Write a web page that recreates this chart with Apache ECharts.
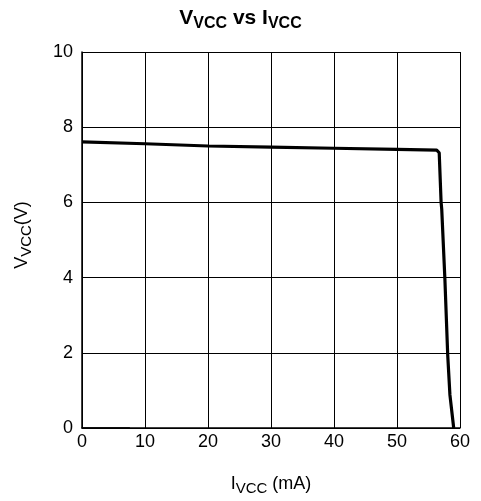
<!DOCTYPE html>
<html>
<head>
<meta charset="utf-8">
<script src="https://cdn.jsdelivr.net/npm/echarts@6/dist/echarts.min.js"></script>
<style>
html, body { margin: 0; padding: 0; background: #fff; }
#chart { width: 481px; height: 501px; }
</style>
</head>
<body>
<div id="chart"></div>
<script>
// curve: I (mA) vs V (V)
var currentMa = [0, 10, 20, 30, 40, 50, 56.3, 56.7, 57.0, 57.1, 57.6, 58.05, 58.4, 59.0];
var voltageV = [7.61, 7.56, 7.50, 7.47, 7.44, 7.41, 7.39, 7.32, 6.0, 5.82, 3.97, 1.94, 0.88, 0];
// short trace along zero at the left
var zeroMa = [0, 7.6];
var zeroV = [0, 0];

var xTicks = [0, 10, 20, 30, 40, 50, 60];
var yTicks = [0, 2, 4, 6, 8, 10];

function pairs(xs, ys) {
    var out = [];
    for (var i = 0; i < xs.length; i++) {
        out.push([xs[i], ys[i]]);
    }
    return out;
}

var font = 'Liberation Sans, Arial, sans-serif';

var chart = echarts.init(document.getElementById('chart'));
chart.setOption({
    animation: false,
    backgroundColor: '#fff',
    title: {
        text: '{b|V}{s|VCC}{b| vs I}{s|VCC}',
        left: 'center',
        top: 0,
        textStyle: {
            rich: {
                b: { fontFamily: font, fontSize: 21, fontWeight: 'bold', color: '#000' },
                s: { fontFamily: font, fontSize: 16, fontWeight: 'bold', color: '#000', padding: [11, 0, 0, 0] }
            }
        }
    },
    grid: { left: 82, right: 21, top: 52, bottom: 71 },
    xAxis: {
        type: 'value',
        min: xTicks[0],
        max: xTicks[xTicks.length - 1],
        interval: 10,
        name: '{n|I}{s|VCC}{n| (mA)}',
        nameLocation: 'middle',
        nameGap: 44,
        nameTextStyle: {
            rich: {
                n: { fontFamily: font, fontSize: 18, color: '#000' },
                s: { fontFamily: font, fontSize: 15, color: '#000', padding: [9, 0, 0, 0] }
            }
        },
        axisLine: { lineStyle: { color: '#000', width: 1.5 } },
        axisTick: { show: false },
        axisLabel: { color: '#000', fontFamily: font, fontSize: 18, margin: 5 },
        splitLine: { show: true, lineStyle: { color: '#000', width: 1 } }
    },
    yAxis: {
        type: 'value',
        min: yTicks[0],
        max: yTicks[yTicks.length - 1],
        interval: 2,
        name: '{n|V}{s|VCC}{n|(V)}',
        nameLocation: 'middle',
        nameRotate: 90,
        nameGap: 48,
        nameTextStyle: {
            padding: [0, 0, 0, 10],
            rich: {
                n: { fontFamily: font, fontSize: 18, color: '#000' },
                s: { fontFamily: font, fontSize: 15, color: '#000', padding: [9, 0, 0, 0] }
            }
        },
        axisLine: { show: true, lineStyle: { color: '#000', width: 1.5 } },
        axisTick: { show: false },
        axisLabel: { color: '#000', fontFamily: font, fontSize: 18, margin: 9 },
        splitLine: { show: true, lineStyle: { color: '#000', width: 1 } }
    },
    series: [
        {
            type: 'line',
            data: pairs(currentMa, voltageV),
            showSymbol: false,
            lineStyle: { color: '#000', width: 3.2 }
        },
        {
            type: 'line',
            data: pairs(zeroMa, zeroV),
            showSymbol: false,
            lineStyle: { color: '#000', width: 1.5 }
        }
    ]
});
</script>
</body>
</html>
